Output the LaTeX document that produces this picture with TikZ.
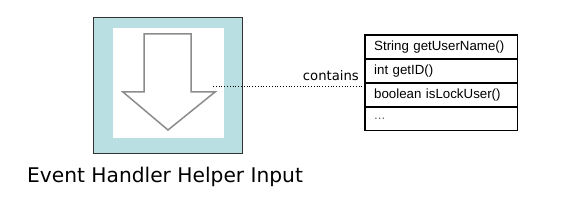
\documentclass[tikz,border=0pt]{standalone}
\usepackage{fontspec}
\setmainfont{Liberation Sans}
\newfontfamily\labelfont{DejaVu Sans}
\usepackage{tikz}
\usetikzlibrary{positioning}
\definecolor{panelblue}{HTML}{B9DFE3}
\definecolor{arrowgray}{HTML}{8C8C8C}

\begin{document}
\begin{tikzpicture}[x=1pt,y=-1pt,
  methodrow/.style={draw, thin, minimum height=23.5pt, inner xsep=9pt, inner ysep=0pt,
    text width=134pt, align=left, font=\fontsize{13.3}{15}\selectfont}]
\useasboundingbox (0,0) rectangle (570,208);
% input panel with the arrow
\node[draw=black!80, fill=panelblue, minimum width=149pt, minimum height=136pt, inner sep=0pt] (panel) at (167.5,85) {};
\node[fill=white, minimum width=111pt, minimum height=110pt, inner sep=0pt] (inner) at (168.5,83) {};
\draw[arrowgray, line width=1.5pt, line join=miter] (144,34) -- (191,34) -- (191,92) -- (215,92)
  -- (168,130) -- (123,92) -- (144,92) -- cycle;
\coordinate (wing) at (213,86.5);
\node[font=\labelfont\fontsize{20.2}{24}\selectfont, anchor=base west, inner sep=0pt] (title) at (27,183) {Event Handler Helper Input};
% method list
\node[methodrow, anchor=north west] (row1) at (365,35) {String getUserName()};
\node[methodrow, below=0pt of row1] (row2) {int getID()};
\node[methodrow, below=0pt of row2] (row3) {boolean isLockUser()};
\node[methodrow, below=0pt of row3] (row4) {\textcolor{black!60}{...}};
\draw[line width=1.6pt] (row1.north west) rectangle (row4.south east);
% relation
\draw[dotted, line width=0.8pt] (wing) -- (wing -| row1.west);
\node[font=\labelfont\fontsize{13.2}{15}\selectfont, anchor=base east, inner sep=0pt] (rel) at (359,81) {contains};
\end{tikzpicture}
\end{document}
